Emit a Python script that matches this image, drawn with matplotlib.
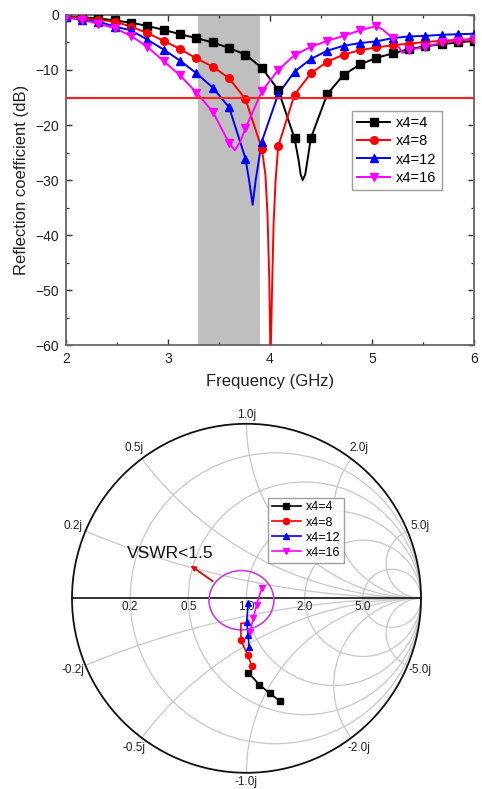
import numpy as np
import matplotlib
matplotlib.use('Agg')
import matplotlib.pyplot as plt
from matplotlib.patches import Circle, Ellipse
from matplotlib.ticker import MultipleLocator

plt.rcParams['font.family'] = ['Liberation Sans', 'DejaVu Sans']

# ---------------- data: reflection coefficient vs frequency ----------------
freq = [2.00, 2.16, 2.32, 2.48, 2.64, 2.80, 2.96, 3.12, 3.28, 3.44, 3.60, 3.76, 3.92,
        4.08, 4.24, 4.40, 4.56, 4.72, 4.88, 5.04, 5.20, 5.36, 5.52, 5.68, 5.84, 6.00]

s11_x4_4 = [-0.4, -0.4, -0.6, -1.0, -1.4, -2.0, -2.7, -3.5, -4.2, -5.0, -6.0, -7.2, -9.6,
            -13.6, -22.4, -22.4, -14.4, -10.9, -9.0, -7.8, -7.0, -6.2, -5.7, -5.3, -5.0, -4.7]
s11_x4_8 = [-0.4, -0.6, -0.9, -1.2, -2.1, -3.3, -4.7, -6.2, -7.9, -9.4, -11.5, -15.3, -24.3,
            -23.9, -14.5, -10.6, -8.5, -7.2, -6.4, -5.9, -5.5, -5.2, -4.9, -4.7, -4.5, -4.4]
s11_x4_12 = [-0.4, -0.9, -1.2, -2.1, -2.8, -4.5, -6.3, -8.3, -10.6, -13.2, -16.8, -26.1, -23.0,
             -14.4, -10.3, -8.0, -6.5, -5.6, -5.1, -4.8, -4.2, -3.9, -3.8, -3.6, -3.5, -3.4]
s11_x4_16 = [-0.4, -0.9, -1.6, -2.4, -3.8, -5.8, -8.4, -11.0, -14.1, -17.6, -23.3, -20.6, -13.9,
             -10.0, -7.3, -5.8, -4.7, -3.8, -2.8, -2.0, -4.2, -6.4, -5.8, -5.0, -4.7, -4.3]

# resonance detail between the sampled markers
dip_f_x4_4 = [4.28, 4.30, 4.32, 4.345, 4.367]
dip_db_x4_4 = [-26.4, -29.0, -30.0, -29.0, -26.4]
dip_f_x4_8 = [3.955, 3.975, 3.993, 4.005, 4.02, 4.035, 4.055]
dip_db_x4_8 = [-29.0, -36.0, -48.0, -63.0, -50.0, -38.0, -30.0]
dip_f_x4_12 = [3.795, 3.83, 3.86]
dip_db_x4_12 = [-30.0, -34.5, -30.0]
dip_f_x4_16 = [3.655, 3.71, 5.10, 5.30]
dip_db_x4_16 = [-24.6, -23.0, -2.6, -6.9]

labels = ['x4=4', 'x4=8', 'x4=12', 'x4=16']
colors = ['#000000', '#ff0000', '#0000ff', '#ff00ff']
markers = ['s', 'o', '^', 'v']

band = [3.3, 3.9]
threshold_db = -15

# ---------------- data: reflection coefficient on the Smith chart ----------------
gamma_re_x4_4 = [0.010, 0.073, 0.132, 0.192]
gamma_im_x4_4 = [-0.426, -0.494, -0.544, -0.589]
gamma_re_x4_8 = [-0.009, -0.032, -0.032, -0.012, 0.007, 0.030]
gamma_im_x4_8 = [-0.143, -0.143, -0.239, -0.285, -0.325, -0.388]
gamma_re_x4_12 = [0.010, 0.001, 0.010, 0.014]
gamma_im_x4_12 = [-0.029, -0.134, -0.210, -0.277]
gamma_re_x4_16 = [0.087, 0.058, 0.039, 0.020]
gamma_im_x4_16 = [0.057, -0.038, -0.115, -0.191]

grid_r = [0.2, 0.5, 1.0, 2.0, 5.0]
grid_x = [0.2, 0.5, 1.0, 2.0, 5.0]

fig = plt.figure(figsize=(4.82, 7.89), dpi=100)

# ================= upper panel =================
ax = fig.add_axes([0.1363, 0.5627, 0.8477, 0.4183])
ax.axvspan(band[0], band[1], color='#bfbfbf', lw=0, zorder=0)

series = [
    (s11_x4_4, dip_f_x4_4, dip_db_x4_4),
    (s11_x4_8, dip_f_x4_8, dip_db_x4_8),
    (s11_x4_12, dip_f_x4_12, dip_db_x4_12),
    (s11_x4_16, dip_f_x4_16, dip_db_x4_16),
]
handles = []
for (vals, df, ddb), lab, c, m in zip(series, labels, colors, markers):
    lf = np.array(list(freq) + list(df))
    lv = np.array(list(vals) + list(ddb))
    order = np.argsort(lf)
    ax.plot(lf[order], lv[order], color=c, lw=1.4, zorder=3)
    ax.plot(freq, vals, ls='none', marker=m, color=c, ms=5.5, zorder=4)
    h, = ax.plot([], [], color=c, lw=1.4, marker=m, ms=5.5, label=lab)
    handles.append(h)

ax.axhline(threshold_db, color='#ff2020', lw=1.5, zorder=5)

ax.set_xlim(2, 6)
ax.set_ylim(-60, 0)
ax.xaxis.set_major_locator(MultipleLocator(1))
ax.xaxis.set_minor_locator(MultipleLocator(0.5))
ax.yaxis.set_major_locator(MultipleLocator(10))
ax.yaxis.set_minor_locator(MultipleLocator(5))
ax.tick_params(which='both', direction='in', top=True, right=True, colors='#333333',
               labelsize=10, labelcolor='#222222')
ax.tick_params(which='major', length=4.5, width=1.0, pad=5)
ax.tick_params(which='minor', length=2.5, width=0.9)
for sp in ax.spines.values():
    sp.set_color('#666666')
    sp.set_linewidth(1.3)
ax.set_xlabel('Frequency (GHz)', fontsize=12, color='#222222', labelpad=6)
ax.set_ylabel('Reflection coefficient (dB)', fontsize=12, color='#222222', labelpad=4)

leg = ax.legend(handles=handles, loc='upper left', bbox_to_anchor=(0.7, 0.71),
                fontsize=10.5, frameon=True, fancybox=False, edgecolor='#888888',
                handlelength=2.3, labelspacing=0.3, borderpad=0.35, handletextpad=0.4,
                borderaxespad=0)
leg.get_frame().set_linewidth(1.0)

# ================= lower panel: Smith chart =================
R = 174.5
cx, cy = 246.5, 789 - 598.3
W, H = 482.0, 789.0
xl, xr, yb, yt = -1.2, 1.2, -1.08, 1.2
sm = fig.add_axes([(cx + xl * R) / W, (cy + yb * R) / H, (xr - xl) * R / W, (yt - yb) * R / H])
sm.set_xlim(xl, xr)
sm.set_ylim(yb, yt)
sm.axis('off')

grid_kw = dict(fill=False, edgecolor='#c8c8c8', lw=0.9, zorder=1)
for r in grid_r:
    sm.add_patch(Circle((r / (1 + r), 0), 1 / (1 + r), **grid_kw))
for x in grid_x:
    for s in (1, -1):
        arc = Circle((1, s / x), 1 / x, **grid_kw)
        sm.add_patch(arc)
        arc.set_clip_path(Circle((0, 0), 1, transform=sm.transData))

sm.add_patch(Circle((0, 0), 1, fill=False, edgecolor='#111111', lw=1.3, zorder=2))
sm.plot([-1, 1], [0, 0], color='#111111', lw=1.2, zorder=2)

lab_kw = dict(fontsize=8.5, color='#222222', ha='center', va='center')
for r in grid_r:
    sm.text((r - 1) / (r + 1), -0.048, f'{r:.1f}', **lab_kw)
for x in grid_x:
    for s in (1, -1):
        g = complex(x * x - 1, 2 * s * x) / (x * x + 1)
        ang = np.angle(g)
        rad = 1.05 if x == 1.0 else 1.075
        sm.text(rad * np.cos(ang), rad * np.sin(ang), f'{s * x:.1f}j', **lab_kw)

smith_series = [
    (gamma_re_x4_4, gamma_im_x4_4, None),
    (gamma_re_x4_8, gamma_im_x4_8, [2, 4, 5]),
    (gamma_re_x4_12, gamma_im_x4_12, None),
    (gamma_re_x4_16, gamma_im_x4_16, None),
]
sh = []
for (gr, gi, mk), lab, c, m in zip(smith_series, labels, colors, markers):
    sm.plot(gr, gi, color=c, lw=1.2, marker=m, ms=4.5, markevery=mk, zorder=4)
    h, = sm.plot([], [], color=c, lw=1.2, marker=m, ms=4.5, label=lab)
    sh.append(h)

sm.add_patch(Ellipse((-0.029, -0.011), 0.372, 0.340, fill=False, edgecolor='#c040e0',
                     lw=1.2, zorder=3))
sm.annotate('', xy=(-0.334, 0.197), xytext=(-0.181, 0.089),
            arrowprops=dict(arrowstyle='-|>', color='#e01010', lw=1.4, mutation_scale=7),
            zorder=5)
sm.text(-0.687, 0.254, 'VSWR<1.5', fontsize=12.5, color='#111111', ha='left', va='center')

leg2 = sm.legend(handles=sh, loc='upper left',
                 bbox_to_anchor=(268.3 / W, 1 - 497.7 / H), bbox_transform=fig.transFigure,
                 fontsize=9, frameon=True, fancybox=False, edgecolor='#888888',
                 handlelength=2.3, labelspacing=0.25, borderpad=0.3, handletextpad=0.4,
                 borderaxespad=0)
leg2.get_frame().set_linewidth(1.0)
leg2.set_zorder(6)

fig.savefig('out.png', dpi=100)
